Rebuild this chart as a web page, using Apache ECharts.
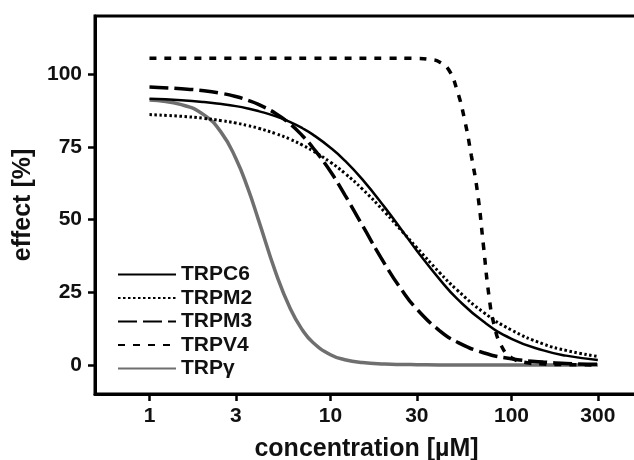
<!DOCTYPE html>
<html>
<head>
<meta charset="utf-8">
<script src="https://cdn.jsdelivr.net/npm/echarts@6/dist/echarts.min.js"></script>
<style>
  html, body { margin: 0; padding: 0; background: #fff; }
  #chart { width: 634px; height: 460px; }
</style>
</head>
<body>
<div id="chart"></div>
<script>
// ---- data ----
const seriesNames = ['TRPC6', 'TRPM2', 'TRPM3', 'TRPV4', 'TRPγ'];
const xTickValues = [1, 3, 10, 30, 100, 300];
const yTickValues = [0, 25, 50, 75, 100];

// concentration samples (µM) shared by the smooth curves
const conc = [1, 1.5, 2, 2.5, 3, 3.5, 4, 5, 6, 7, 8, 10, 12, 15, 20, 25, 30, 40, 50, 70, 100, 150, 200, 300];
const effectTRPC6 = [91.5, 91.0, 90.4, 89.7, 89.0, 88.2, 87.3, 85.5, 83.5, 81.4, 79.2, 74.7, 70.3, 63.8, 54.1, 46.0, 39.3, 29.5, 22.8, 14.9, 9.0, 5.0, 3.2, 1.7];
const effectTRPM2 = [86.1, 85.5, 84.8, 84.0, 83.2, 82.3, 81.4, 79.5, 77.6, 75.6, 73.6, 69.7, 65.9, 60.5, 52.5, 45.8, 40.3, 31.8, 25.8, 18.1, 12.0, 7.2, 5.0, 2.9];
const effectTRPM3 = [95.6, 95.0, 94.3, 93.4, 92.3, 91.0, 89.6, 86.4, 82.8, 78.8, 74.7, 66.5, 58.5, 48.0, 34.6, 25.4, 19.2, 11.8, 7.9, 4.2, 2.1, 1.0, 0.5, 0.2];
const effectTRPg  = [91.1, 89.5, 86.0, 79.8, 71.0, 60.6, 49.9, 31.5, 19.3, 12.0, 7.7, 3.5, 1.8, 0.8, 0.3, 0.15, 0.1, 0.0, 0.0, 0.0, 0.0, 0.0, 0.0, 0.0];

// TRPV4 has its own sampling around the steep drop
const concTRPV4   = [1, 3, 10, 20, 30, 36, 40, 45, 50, 55, 60, 65, 70, 75, 80, 88, 100, 120, 150, 200, 300];
const effectTRPV4 = [105.5, 105.5, 105.5, 105.5, 105.4, 105.0, 104.2, 101.5, 94.5, 84.5, 72.0, 59.0, 41.0, 24.0, 14.0, 6.5, 2.5, 0.8, 0.3, 0.1, 0.0];

function pairs(xs, ys) { return xs.map((x, i) => [x, ys[i]]); }

const FONT = '"Liberation Sans", Arial, Helvetica, sans-serif';
const chart = echarts.init(document.getElementById('chart'), null, { renderer: 'canvas' });

const lineBase = { type: 'line', showSymbol: false, symbol: 'none', smooth: 0.5, animation: false };

chart.setOption({
  animation: false,
  backgroundColor: '#ffffff',
  grid: { left: 95, top: 16, right: -4, bottom: 66, show: true, borderColor: '#000', borderWidth: 3,
          backgroundColor: 'transparent', containLabel: false, outerBoundsMode: 'none' },
  legend: {
    orient: 'vertical', left: 117, top: 264, padding: 0,
    itemWidth: 58, itemHeight: 20, itemGap: 2.5,
    selectedMode: false,
    itemStyle: { opacity: 0 },
    textStyle: { fontFamily: FONT, fontSize: 21, fontWeight: 'bold', color: '#111', lineHeight: 20 },
    data: seriesNames
  },
  xAxis: {
    type: 'log', logBase: 10, min: 0.5, max: 500,
    axisLine: { show: true, onZero: false, lineStyle: { color: '#000', width: 3 } },
    axisTick: { show: true, customValues: xTickValues, length: 7, lineStyle: { color: '#000', width: 2.5 } },
    minorTick: { show: false },
    axisLabel: { customValues: xTickValues, fontFamily: FONT, fontSize: 21, fontWeight: 'bold', color: '#111', margin: 12 },
    splitLine: { show: false },
    name: 'concentration [µM]', nameLocation: 'middle', nameGap: 43,
    nameTextStyle: { fontFamily: FONT, fontSize: 25, fontWeight: 'bold', color: '#111' }
  },
  yAxis: {
    type: 'value', min: -10, max: 120,
    axisLine: { show: true, onZero: false, lineStyle: { color: '#000', width: 3 } },
    axisTick: { show: true, customValues: yTickValues, length: 7, lineStyle: { color: '#000', width: 2.5 } },
    axisLabel: { customValues: yTickValues, fontFamily: FONT, fontSize: 21, fontWeight: 'bold', color: '#111', margin: 13 },
    splitLine: { show: false },
    name: 'effect [%]', nameLocation: 'middle', nameGap: 57, nameRotate: 90,
    nameTextStyle: { fontFamily: FONT, fontSize: 25, fontWeight: 'bold', color: '#111' }
  },
  series: [
    Object.assign({}, lineBase, { name: 'TRPγ', z: 1, data: pairs(conc, effectTRPg),
      lineStyle: { color: '#6f6f6f', width: 3.5, type: 'solid' }, itemStyle: { color: '#6f6f6f' } }),
    Object.assign({}, lineBase, { name: 'TRPC6', z: 3, data: pairs(conc, effectTRPC6),
      lineStyle: { color: '#000', width: 2.5, type: 'solid' }, itemStyle: { color: '#000' } }),
    Object.assign({}, lineBase, { name: 'TRPM2', z: 3, data: pairs(conc, effectTRPM2),
      lineStyle: { color: '#000', width: 3, type: [2.5, 2.5] }, itemStyle: { color: '#000' } }),
    Object.assign({}, lineBase, { name: 'TRPM3', z: 3, data: pairs(conc, effectTRPM3),
      lineStyle: { color: '#000', width: 3.5, type: [19, 6] }, itemStyle: { color: '#000' } }),
    Object.assign({}, lineBase, { name: 'TRPV4', z: 3, data: pairs(concTRPV4, effectTRPV4),
      lineStyle: { color: '#000', width: 3.5, type: [7, 8] }, itemStyle: { color: '#000' } })
  ]
});
</script>
</body>
</html>
